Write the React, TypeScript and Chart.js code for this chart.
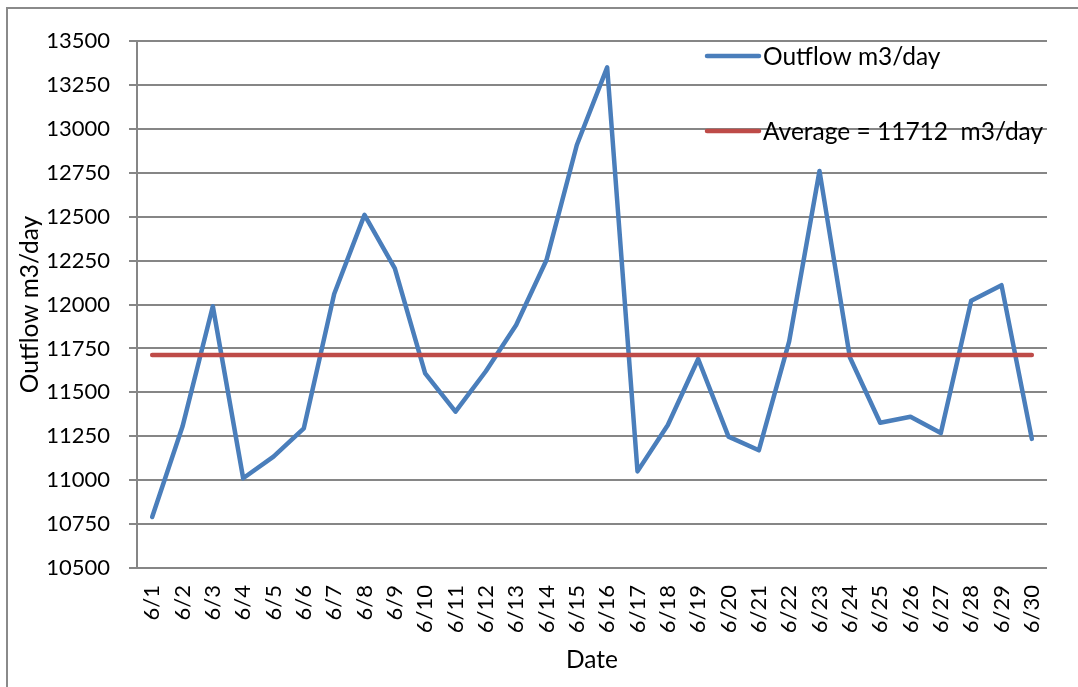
import React, { useEffect, useRef } from "react";
import { Chart, registerables } from "chart.js";

Chart.register(...registerables);

const categories = [
  "6/1", "6/2", "6/3", "6/4", "6/5", "6/6", "6/7", "6/8", "6/9", "6/10",
  "6/11", "6/12", "6/13", "6/14", "6/15", "6/16", "6/17", "6/18", "6/19", "6/20",
  "6/21", "6/22", "6/23", "6/24", "6/25", "6/26", "6/27", "6/28", "6/29", "6/30",
];

const outflow = [
  10790, 11305, 11990, 11011, 11134, 11295, 12060, 12510, 12206, 11608,
  11390, 11620, 11883, 12253, 12908, 13350, 11050, 11314, 11690, 11248,
  11170, 11790, 12760, 11700, 11327, 11361, 11268, 12022, 12110, 11235,
];

const averageValue = 11712;
const averageSeries = categories.map(() => averageValue);

const outflowLabel = "Outflow m3/day";
const averageLabel = "Average = 11712  m3/day";
const yAxisTitle = "Outflow m3/day";
const xAxisTitle = "Date";

const yMin = 10500;
const yMax = 13500;
const yStep = 250;

const FONT = "Lato";
const TEXT_SIZE = 24.5;
const TICK_SIZE = 22;
const GRID = "#868686";
const BLUE = "#4A7EBB";
const RED = "#BE4B48";

const framePlugin = {
  id: "frame",
  beforeDraw(chart: any) {
    const ctx = chart.ctx;
    ctx.save();
    ctx.fillStyle = "#ffffff";
    ctx.fillRect(0, 0, chart.width, chart.height);
    ctx.strokeStyle = "#8a8a8a";
    ctx.lineWidth = 2;
    ctx.strokeRect(7, 8, chart.width + 50, chart.height + 50);
    ctx.restore();
  },
};

const legendPlugin = {
  id: "inlineLegend",
  afterDraw(chart: any) {
    const ctx = chart.ctx;
    const rows = [56, 131];
    chart.data.datasets.forEach((ds: any, i: number) => {
      const y = rows[i];
      ctx.save();
      ctx.strokeStyle = ds.borderColor;
      ctx.lineWidth = 4.5;
      ctx.lineCap = "round";
      ctx.beginPath();
      ctx.moveTo(707, y);
      ctx.lineTo(759, y);
      ctx.stroke();
      ctx.fillStyle = "#000000";
      ctx.font = `${TEXT_SIZE}px ${FONT}`;
      ctx.textBaseline = "middle";
      ctx.textAlign = "left";
      ctx.fillText(ds.label, 763, y + 1);
      ctx.restore();
    });
  },
};

export default function App() {
  const canvasRef = useRef<HTMLCanvasElement | null>(null);

  useEffect(() => {
    const canvas = canvasRef.current;
    if (!canvas) return;
    const chart = new Chart(canvas, {
      type: "line",
      data: {
        labels: categories,
        datasets: [
          {
            label: outflowLabel,
            data: outflow,
            borderColor: BLUE,
            backgroundColor: BLUE,
            borderWidth: 4.5,
            pointRadius: 0,
            borderCapStyle: "round",
            borderJoinStyle: "round",
            tension: 0,
            order: 1,
          },
          {
            label: averageLabel,
            data: averageSeries,
            borderColor: RED,
            backgroundColor: RED,
            borderWidth: 4.5,
            pointRadius: 0,
            borderCapStyle: "round",
            tension: 0,
            order: 0,
          },
        ],
      },
      options: {
        animation: false,
        responsive: false,
        devicePixelRatio: 1,
        layout: { padding: { left: 0, right: 31, top: 41, bottom: 0 } },
        plugins: {
          legend: { display: false },
          tooltip: { enabled: false },
        },
        scales: {
          x: {
            type: "category",
            offset: true,
            grid: { display: false, drawTicks: false },
            border: { display: false },
            ticks: {
              autoSkip: false,
              minRotation: 90,
              maxRotation: 90,
              padding: 17,
              color: "#000000",
              font: { family: FONT, size: TICK_SIZE },
            },
            title: {
              display: true,
              text: xAxisTitle,
              color: "#000000",
              font: { family: FONT, size: TEXT_SIZE },
              padding: { top: 12, bottom: 12 },
            },
            afterFit(scale: any) {
              scale.height = 119;
            },
          },
          y: {
            min: yMin,
            max: yMax,
            grid: {
              color: GRID,
              lineWidth: 2,
              tickLength: 8,
              drawTicks: true,
            },
            border: { display: true, color: GRID, width: 2 },
            ticks: {
              stepSize: yStep,
              padding: 19,
              color: "#000000",
              font: { family: FONT, size: TICK_SIZE },
              callback: (value: any) => String(value),
            },
            title: {
              display: true,
              text: yAxisTitle,
              color: "#000000",
              font: { family: FONT, size: TEXT_SIZE },
              padding: { top: 15, bottom: 15 },
            },
            afterFit(scale: any) {
              scale.width = 137;
            },
          },
        },
      },
      plugins: [framePlugin, legendPlugin],
    });
    return () => chart.destroy();
  }, []);

  return (
    <div style={{ position: "absolute", left: 0, top: 0, width: 1078, height: 687 }}>
      <canvas ref={canvasRef} width={1078} height={687} style={{ display: "block" }} />
    </div>
  );
}
